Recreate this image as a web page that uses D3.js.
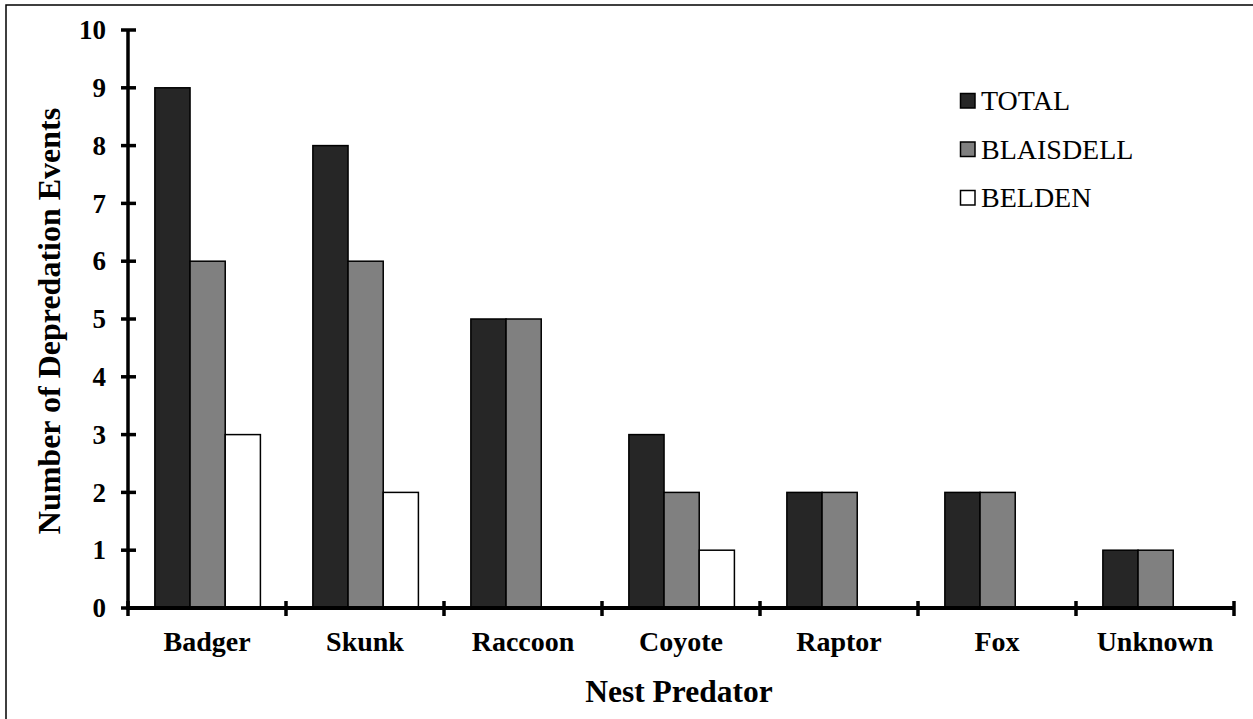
<!DOCTYPE html>
<html><head><meta charset="utf-8">
<script src="https://cdn.jsdelivr.net/npm/d3@7"></script>
<style>body{margin:0;background:#fff}svg{display:block}
text{font-family:"Times New Roman","Liberation Serif",Tinos,"DejaVu Serif",serif}</style>
</head><body>
<script>
const categories = ["Badger","Skunk","Raccoon","Coyote","Raptor","Fox","Unknown"];
const seriesNames = ["TOTAL","BLAISDELL","BELDEN"];
const total = [9,8,5,3,2,2,1];
const blaisdell = [6,6,5,2,2,2,1];
const belden = [3,2,0,1,0,0,0];
const yTicks = [0,1,2,3,4,5,6,7,8,9,10];
const colors = ["#262626","#808080","#ffffff"];
const values = [total, blaisdell, belden];

(function(){
const W=1253,H=719;
const svg=d3.select("body").append("svg").attr("width",W).attr("height",H);
svg.append("rect").attr("width",W).attr("height",H).attr("fill","#fff");
// outer frame (only left/top visible)
svg.append("rect").attr("x",6).attr("y",5).attr("width",W+20).attr("height",H+20)
  .attr("fill","none").attr("stroke","#000").attr("stroke-width",1.5);

const pLeft=128,pRight=1234,pTop=30,pBottom=608;
const x0=d3.scaleBand().domain(categories).range([pLeft,pRight]).padding(0);
const bw=x0.bandwidth();
const x1=d3.scaleBand().domain(seriesNames).range([bw*0.17,bw*0.838]).padding(0);
const y=d3.scaleLinear().domain([0,10]).range([pBottom,pTop]);

// bars
categories.forEach((c,i)=>{
  seriesNames.forEach((s,j)=>{
    const v=values[j][i];
    if(v<=0) return;
    svg.append("rect")
      .attr("x",x0(c)+x1(s)).attr("y",y(v))
      .attr("width",x1.bandwidth()).attr("height",y(0)-y(v))
      .attr("fill",colors[j]).attr("stroke","#000").attr("stroke-width",1.5);
  });
});

// y axis
const yAxis=svg.append("g").attr("transform",`translate(${pLeft},0)`)
  .call(d3.axisLeft(y).tickValues(yTicks).tickSize(0).tickPadding(22).tickFormat(d3.format("d")));
yAxis.select(".domain").remove();
yAxis.attr("font-family",null);
yAxis.selectAll("text").attr("font-weight","bold").attr("font-size",27).attr("fill","#000");
yTicks.forEach(t=>{
  svg.append("line").attr("x1",pLeft-7).attr("x2",pLeft+8).attr("y1",y(t)).attr("y2",y(t))
    .attr("stroke","#000").attr("stroke-width",3.5);
});
svg.append("line").attr("x1",pLeft).attr("x2",pLeft).attr("y1",y(10)-1).attr("y2",y(0)+2)
  .attr("stroke","#000").attr("stroke-width",3.5);

// x axis
svg.append("line").attr("x1",pLeft).attr("x2",pRight).attr("y1",y(0)).attr("y2",y(0))
  .attr("stroke","#000").attr("stroke-width",4);
const bounds=categories.map(c=>x0(c)).concat([pRight]);
bounds.forEach(b=>{
  svg.append("line").attr("x1",b).attr("x2",b).attr("y1",y(0)-7).attr("y2",y(0)+8)
    .attr("stroke","#000").attr("stroke-width",3.5);
});
const xAxis=svg.append("g").attr("transform",`translate(0,${y(0)})`)
  .call(d3.axisBottom(x0).tickSize(0).tickPadding(23));
xAxis.select(".domain").remove();
xAxis.attr("font-family",null);
xAxis.selectAll("text").attr("font-weight","bold").attr("font-size",28).attr("fill","#000");

// titles
svg.append("text").attr("x",679).attr("y",702).attr("text-anchor","middle")
  .attr("font-weight","bold").attr("font-size",31.5).text("Nest Predator");
svg.append("text").attr("transform",`translate(60,${(pTop+pBottom)/2+2}) rotate(-90)`).attr("text-anchor","middle")
  .attr("font-weight","bold").attr("font-size",32).text("Number of Depredation Events");

// legend
const lg=svg.append("g");
seriesNames.forEach((s,j)=>{
  const cy=101+j*48.5;
  lg.append("rect").attr("x",960.5).attr("y",cy-7.5).attr("width",14.5).attr("height",14.5)
    .attr("fill",colors[j]).attr("stroke","#000").attr("stroke-width",1.5);
  lg.append("text").attr("x",981).attr("y",cy+9).attr("font-size",28).text(s);
});
})();
</script>
</body></html>
